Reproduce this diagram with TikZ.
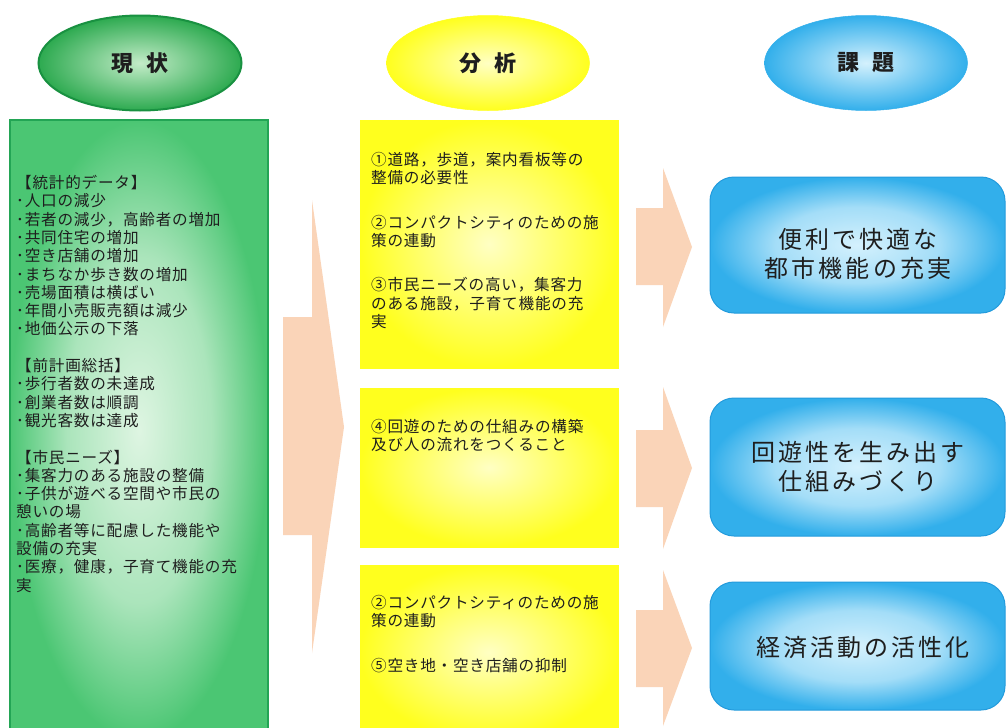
\documentclass[tikz,border=0pt]{standalone}
\usepackage{fontspec}
\newfontfamily\jp{Noto Sans CJK JP}
\newfontfamily\jpsm[LetterSpace=5]{Noto Sans CJK JP}
\newfontfamily\jpls[LetterSpace=13]{Noto Sans CJK JP}
\usetikzlibrary{shapes.geometric}
\definecolor{gOut}{RGB}{75,198,115}
\definecolor{gIn}{RGB}{222,245,226}
\definecolor{gLine}{RGB}{35,165,85}
\definecolor{geOut}{RGB}{45,170,80}
\definecolor{geIn}{RGB}{195,236,200}
\definecolor{geLine}{RGB}{25,145,65}
\definecolor{yOut}{RGB}{255,255,30}
\definecolor{yIn}{RGB}{255,255,195}
\definecolor{bOut}{RGB}{50,175,235}
\definecolor{bIn}{RGB}{212,241,253}
\definecolor{bLine}{RGB}{35,155,220}
\definecolor{peach}{RGB}{250,212,184}
\definecolor{txt}{RGB}{30,30,30}
\pgfdeclareradialshading{bshade}{\pgfpoint{0bp}{0bp}}{color(0bp)=(bIn); color(14bp)=(bIn!70!bOut); color(25bp)=(bOut); color(50bp)=(bOut)}
\pgfdeclareradialshading{gshade}{\pgfpoint{0bp}{0bp}}{color(0bp)=(gIn); color(14bp)=(gIn!65!gOut); color(25bp)=(gOut); color(50bp)=(gOut)}
\tikzset{
  oval/.style={ellipse, minimum width=203pt, minimum height=95pt, inner sep=0pt,
    shading=radial, font=\jp\bfseries\fontsize{22}{24}\selectfont, text=txt},
  gbox/.style={draw=gLine, line width=1.6pt, shading=gshade},
  ybox/.style={draw=yOut, line width=0.8pt, shading=radial, inner color=yIn, outer color=yOut},
  bbox/.style={draw=bLine, line width=1pt, rounded corners=24pt, shading=bshade},
  lbl/.style={inner sep=0pt, anchor=base west, align=left, text width=252pt,
    font=\jpsm\fontsize{15.6}{18.3}\selectfont, text=txt},
  blbl/.style={inner sep=0pt, align=center, font=\jpls\fontsize{24}{29.5}\selectfont, text=txt},
  flow/.style={fill=peach, draw=none}
}
\begin{document}
\begin{tikzpicture}[x=1pt,y=-1pt]
\useasboundingbox (0,0) rectangle (1007,728);
\fill[white] (0,0) rectangle (1007,728);

% header ovals
\node[oval, draw=geLine, line width=2pt, inner color=geIn, outer color=geOut] (e1) at (140,63) {現\hspace{13pt}状};
\node[oval, draw=yOut, line width=0.5pt, inner color=yIn, outer color=yOut] (e2) at (488,63) {分\hspace{13pt}析};
\node[oval, draw=bOut, line width=0.5pt, inner color=bIn, outer color=bOut] (e3) at (866,63) {課\hspace{13pt}題};

% green column
\path[gbox] (10,120) rectangle (268,740);
\node[lbl] (t1) at (16,188.5) {【統計的データ】\\
･人口の減少\\
･若者の減少，高齢者の増加\\
･共同住宅の増加\\
･空き店舗の増加\\
･まちなか歩き数の増加\\
･売場面積は横ばい\\
･年間小売販売額は減少\\
･地価公示の下落\\[18.3pt]
【前計画総括】\\
･歩行者数の未達成\\
･創業者数は順調\\
･観光客数は達成\\[18.3pt]
【市民ニーズ】\\
･集客力のある施設の整備\\
･子供が遊べる空間や市民の\\
憩いの場\\
･高齢者等に配慮した機能や\\
設備の充実\\
･医療，健康，子育て機能の充\\
実};

% big arrow
\path[flow] (283,317) -- (312,317) -- (312,200) -- (344,427) -- (312,653) -- (312,535) -- (283,535) -- cycle;

% yellow column
\path[ybox] (360,120) rectangle (618,368);
\path[ybox] (360,388) rectangle (618,547);
\path[ybox] (360,565) rectangle (618,740);
\node[lbl] (y1) at (371,165.5) {①道路，歩道，案内看板等の\\
整備の必要性\\[26pt]
②コンパクトシティのための施\\
策の連動\\[26pt]
③市民ニーズの高い，集客力\\
のある施設，子育て機能の充\\
実};
\node[lbl] (y2) at (371,432.5) {④回遊のための仕組みの構築\\
及び人の流れをつくること};
\node[lbl] (y3) at (371,608.5) {②コンパクトシティのための施\\
策の連動\\[26pt]
⑤空き地・空き店舗の抑制};

% small arrows
\path[flow] (636,208) -- (663,208) -- (663,168) -- (692,247) -- (663,327) -- (663,285) -- (636,285) -- cycle;
\path[flow] (636,430) -- (663,430) -- (663,387) -- (692,468) -- (663,549) -- (663,507) -- (636,507) -- cycle;
\path[flow] (636,610) -- (663,610) -- (663,570) -- (692,648) -- (663,726) -- (663,687) -- (636,687) -- cycle;

% blue column
\path[bbox] (710,177) rectangle (1005,313);
\path[bbox] (710,398) rectangle (1005,536);
\path[bbox] (710,582) rectangle (1005,710);
\node[blbl] (b1) at (858,254) {便利で快適な\\都市機能の充実};
\node[blbl] (b2) at (858,467) {回遊性を生み出す\\仕組みづくり};
\node[blbl] (b3) at (863,647) {経済活動の活性化};
\end{tikzpicture}
\end{document}
